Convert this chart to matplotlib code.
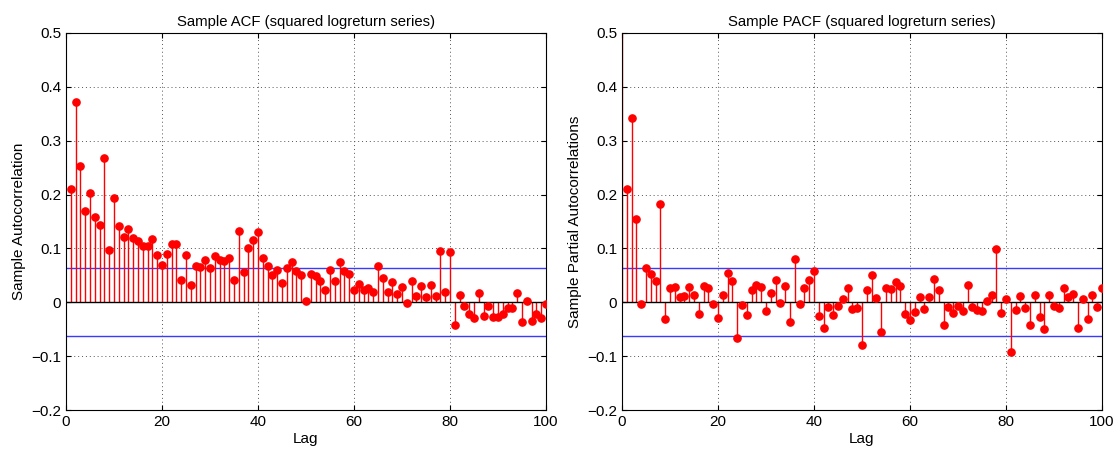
import numpy as np
import matplotlib
matplotlib.use('Agg')
import matplotlib.pyplot as plt

plt.rcParams['font.family'] = ['Liberation Sans', 'DejaVu Sans']

# sample ACF of squared logreturns, lags 1..100
acf = [0.210, 0.371, 0.253, 0.169, 0.203, 0.158, 0.143, 0.268, 0.098, 0.194,
       0.141, 0.122, 0.136, 0.120, 0.113, 0.105, 0.104, 0.118, 0.088, 0.069,
       0.090, 0.109, 0.109, 0.042, 0.088, 0.033, 0.068, 0.066, 0.079, 0.063,
       0.086, 0.079, 0.076, 0.082, 0.042, 0.133, 0.057, 0.100, 0.116, 0.131,
       0.083, 0.068, 0.051, 0.060, 0.036, 0.063, 0.074, 0.059, 0.051, 0.002,
       0.053, 0.048, 0.040, 0.023, 0.060, 0.040, 0.074, 0.058, 0.052, 0.022,
       0.034, 0.022, 0.026, 0.020, 0.067, 0.045, 0.020, 0.037, 0.016, 0.029,
       -0.001, 0.039, 0.012, 0.030, 0.009, 0.032, 0.011, 0.096, 0.019, 0.093,
       -0.042, 0.014, -0.007, -0.021, -0.029, 0.017, -0.026, -0.006, -0.028, -0.028,
       -0.021, -0.011, -0.011, 0.018, -0.037, 0.002, -0.035, -0.021, -0.030, -0.003]

# sample PACF, lags 0..100
pacf = [1.0,
        0.210, 0.343, 0.154, -0.003, 0.063, 0.053, 0.040, 0.182, -0.031, 0.027,
        0.029, 0.009, 0.011, 0.029, 0.013, -0.022, 0.030, 0.026, -0.004, -0.030,
        0.014, 0.055, 0.040, -0.066, -0.005, -0.024, 0.022, 0.032, 0.029, -0.017,
        0.018, 0.041, -0.001, 0.031, -0.036, 0.081, -0.003, 0.026, 0.042, 0.059,
        -0.026, -0.047, -0.009, -0.024, -0.006, 0.007, 0.027, -0.012, -0.010, -0.079,
        0.022, 0.050, 0.008, -0.055, 0.026, 0.024, 0.037, 0.030, -0.022, -0.032,
        -0.018, 0.009, -0.012, 0.009, 0.043, 0.022, -0.042, -0.008, -0.019, -0.007,
        -0.017, 0.033, -0.009, -0.014, -0.017, 0.003, 0.014, 0.099, -0.020, 0.007,
        -0.092, -0.014, 0.011, -0.011, -0.043, 0.013, -0.027, -0.050, 0.013, -0.007,
        -0.011, 0.026, 0.009, 0.016, -0.047, 0.007, -0.031, 0.013, -0.008, 0.026]

bound = 0.0634

fig = plt.figure(figsize=(11.17, 4.5), dpi=100)
ax1 = fig.add_axes([66/1117, 40/450, 480/1117, 377/450])
ax2 = fig.add_axes([622/1117, 40/450, 480/1117, 377/450])

def draw(ax, lags, vals, title, ylabel):
    ax.vlines(lags, 0, vals, color='red', lw=1, zorder=2)
    ax.plot(lags, vals, 'o', color='red', ms=5.2, zorder=3, clip_on=True)
    ax.axhline(0, color='black', lw=1, zorder=2)
    ax.axhline(bound, color='#3a3aff', lw=1, zorder=1)
    ax.axhline(-bound, color='#3a3aff', lw=1, zorder=1)
    ax.set_xlim(0, 100)
    ax.set_ylim(-0.2, 0.5)
    ax.set_xticks(np.arange(0, 101, 20))
    ax.set_yticks(np.arange(-0.2, 0.51, 0.1))
    ax.set_yticklabels(['\u22120.2', '\u22120.1', '0', '0.1', '0.2', '0.3', '0.4', '0.5'])
    ax.grid(True, linestyle=(0, (1, 3)), color='#555555', lw=0.7)
    ax.tick_params(direction='in', top=True, right=True, labelsize=11)
    for s in ax.spines.values():
        s.set_linewidth(0.8)
    ax.set_title(title, fontsize=10.7, pad=5)
    ax.set_xlabel('Lag', fontsize=11, labelpad=2)
    ax.set_ylabel(ylabel, fontsize=11)

draw(ax1, np.arange(1, 101), acf, 'Sample ACF (squared logreturn series)', 'Sample Autocorrelation')
draw(ax2, np.arange(0, 101), pacf, 'Sample PACF (squared logreturn series)', 'Sample Partial Autocorrelations')

fig.savefig('out.png', dpi=100)
